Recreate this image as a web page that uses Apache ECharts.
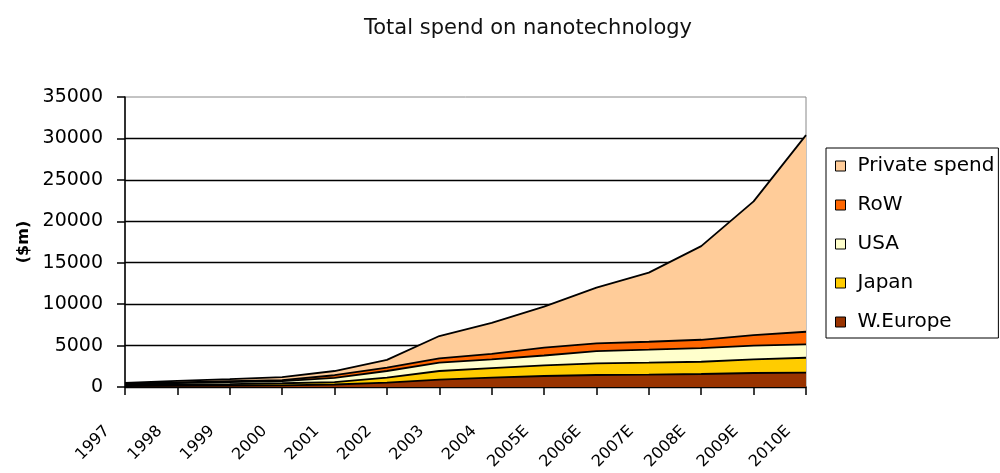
<!DOCTYPE html>
<html>
<head>
<meta charset="utf-8">
<script src="https://cdn.jsdelivr.net/npm/echarts@6/dist/echarts.min.js"></script>
<style>
html,body{margin:0;padding:0;background:#fff;}
#chart{width:1000px;height:473px;}
</style>
</head>
<body>
<div id="chart"></div>
<script>
const categories = ['1997','1998','1999','2000','2001','2002','2003','2004','2005E','2006E','2007E','2008E','2009E','2010E'];
const wEurope = [120,150,180,200,300,520,900,1120,1330,1450,1490,1570,1690,1730];
const japan   = [120,140,160,250,300,600,1030,1170,1270,1400,1440,1480,1640,1800];
const usa     = [120,190,260,270,500,810,1020,1040,1200,1490,1570,1650,1670,1610];
const row     = [70,80,100,110,320,420,500,670,940,920,960,1000,1270,1530];
const privateSpend = [70,190,250,370,510,930,2700,3750,4960,6740,8340,11300,16130,23730];
const yTicks = { min: 0, max: 35000, interval: 5000 };

const FONT = 'DejaVu Sans';
function areaSeries(name, data, color) {
  return {
    name: name, type: 'line', stack: 'total', data: data,
    symbol: 'none', color: color,
    itemStyle: { color: color },
    lineStyle: { color: '#000', width: 1.8 },
    areaStyle: { color: color, opacity: 1 }
  };
}

const chart = echarts.init(document.getElementById('chart'), null, { renderer: 'canvas' });
chart.setOption({
  animation: false,
  backgroundColor: '#fff',
  title: {
    text: 'Total spend on nanotechnology',
    left: 359, top: 13,
    textStyle: { fontFamily: FONT, fontSize: 21, fontWeight: 'normal', color: '#111' }
  },
  grid: {
    left: 125, right: 194, top: 97, bottom: 86,
    show: true, borderColor: '#888', borderWidth: 1, backgroundColor: '#fff'
  },
  legend: {
    orient: 'vertical', left: 826, top: 148,
    data: ['Private spend', 'RoW', 'USA', 'Japan', 'W.Europe'],
    icon: 'rect', itemWidth: 10, itemHeight: 10, itemGap: 19,
    padding: [8, 4, 6, 9],
    borderColor: '#000', borderWidth: 1,
    itemStyle: { borderColor: '#000', borderWidth: 1 },
    textStyle: { fontFamily: FONT, fontSize: 20, color: '#000', padding: [0, 0, 0, 7] }
  },
  xAxis: {
    type: 'category', data: categories, boundaryGap: false,
    axisLine: { lineStyle: { color: '#000', width: 1.5 } },
    axisTick: { show: true, interval: 0, length: 8, lineStyle: { color: '#000', width: 1.5 } },
    axisLabel: {
      interval: 0, rotate: 45, margin: 24,
      formatter: function (v) { return '{a|' + v + '}{s|}'; },
      fontFamily: FONT, fontSize: 16, color: '#000',
      rich: {
        a: { fontFamily: FONT, fontSize: 16, color: '#000' },
        s: { width: 25 }
      }
    },
    splitLine: { show: false }
  },
  yAxis: {
    type: 'value', min: yTicks.min, max: yTicks.max, interval: yTicks.interval,
    name: '($m)', nameLocation: 'middle', nameGap: 86, nameRotate: 90,
    nameTextStyle: { fontFamily: FONT, fontSize: 16, fontWeight: 'bold', color: '#000' },
    axisLine: { show: true, lineStyle: { color: '#000', width: 1.5 } },
    axisTick: { show: true, length: 8, lineStyle: { color: '#000', width: 1.5 } },
    axisLabel: {
      margin: 22, fontFamily: FONT, fontSize: 19, color: '#000',
      formatter: function (v) { return String(v); }
    },
    splitLine: { show: true, showMaxLine: false, lineStyle: { color: '#000', width: 1.3 } }
  },
  series: [
    areaSeries('W.Europe', wEurope, '#993300'),
    areaSeries('Japan', japan, '#FFCC00'),
    areaSeries('USA', usa, '#FFFFCC'),
    areaSeries('RoW', row, '#FF6600'),
    areaSeries('Private spend', privateSpend, '#FFCC99')
  ]
});
</script>
</body>
</html>
